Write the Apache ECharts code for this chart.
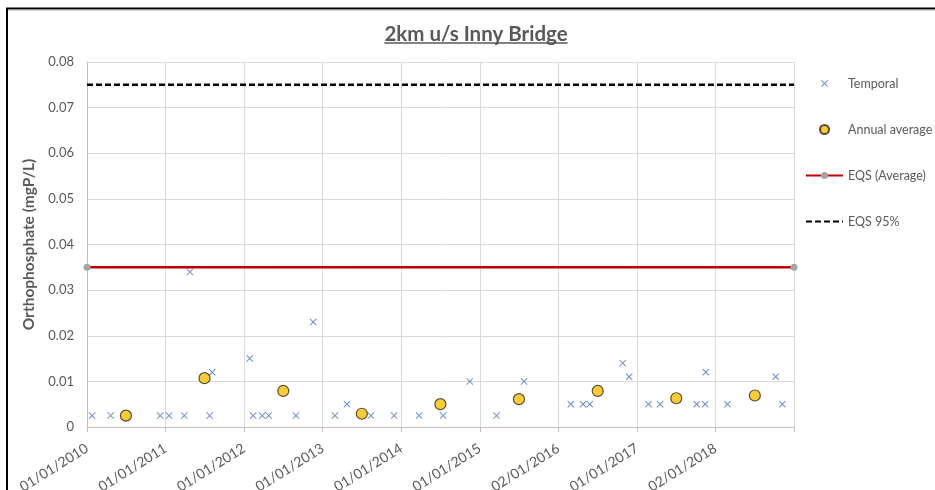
<!DOCTYPE html>
<html>
<head>
<meta charset="utf-8">
<script src="https://cdn.jsdelivr.net/npm/echarts@6/dist/echarts.min.js"></script>
<style>
  html, body { margin: 0; padding: 0; background: #fff; }
  #chart { width: 935px; height: 490px; }
</style>
</head>
<body>
<div id="chart"></div>
<script>
// 取样日期与数值
const temporalDates = [
  '2010-01-25', '2010-04-21', '2010-12-07', '2011-01-17', '2011-03-29', '2011-04-24',
  '2011-07-25', '2011-08-06', '2012-01-27', '2012-02-12', '2012-03-25', '2012-04-24',
  '2012-08-29', '2012-11-17', '2013-02-26', '2013-04-23', '2013-08-12', '2013-11-28',
  '2014-03-24', '2014-07-14', '2014-11-15', '2015-03-19', '2015-07-25', '2016-02-27',
  '2016-04-24', '2016-05-25', '2016-10-25', '2016-11-24', '2017-02-22', '2017-04-17',
  '2017-10-04', '2017-11-12', '2017-11-15', '2018-02-24', '2018-10-06', '2018-11-06'
]
const temporalValues = [
  0.0025, 0.0025, 0.0025, 0.0025, 0.0025, 0.034,
  0.0025, 0.012, 0.015, 0.0025, 0.0025, 0.0025,
  0.0025, 0.023, 0.0025, 0.005, 0.0025, 0.0025,
  0.0025, 0.0025, 0.01, 0.0025, 0.01, 0.005,
  0.005, 0.005, 0.014, 0.011, 0.005, 0.005,
  0.005, 0.005, 0.012, 0.005, 0.011, 0.005
]

// 年平均值
const averageDates = [
  '2010-07-01', '2011-07-01', '2012-07-01', '2013-07-01', '2014-07-01',
  '2015-07-01', '2016-07-01', '2017-07-01', '2018-07-01'
]
const averageValues = [0.0025, 0.0107, 0.0079, 0.0029, 0.005, 0.0061, 0.0079, 0.0063, 0.0069]

// 标准线
const eqsAverage = 0.035
const eqs95 = 0.075

// 横轴刻度 (每 365 天一格)
const xTickLabels = [
  '01/01/2010', '01/01/2011', '01/01/2012', '01/01/2013', '01/01/2014',
  '01/01/2015', '02/01/2016', '01/01/2017', '02/01/2018'
]
const startDate = '2010-01-01'
const tickDays = 365
const xMax = tickDays * xTickLabels.length

const FONT = 'Lato'
const GREY = '#595959'

function toDays (d) {
  return Math.round((Date.parse(d) - Date.parse(startDate)) / 86400000)
}

const titleText = '2km u/s Inny Bridge'
const titleFont = 'bold 20.5px ' + FONT
const ctx = document.createElement('canvas').getContext('2d')
ctx.font = titleFont
const titleWidth = ctx.measureText(titleText).width
const titleCx = 476

// 散点的叉号, 图例里带一点留白
const crossPath = 'path://M0,1L1,0L5,4L9,0L10,1L6,5L10,9L9,10L5,6L1,10L0,9L4,5Z'
const crossLegend = 'path://M-1.4,-1.4M11.4,11.4M0,1L1,0L5,4L9,0L10,1L6,5L10,9L9,10L5,6L1,10L0,9L4,5Z'

let myChart = echarts.init(document.getElementById('chart'))
myChart.setOption({
  animation: false,
  textStyle: { fontFamily: FONT },
  graphic: [
    {
      type: 'polyline',
      shape: { points: [[7, 490], [7, 8.5], [935, 8.5]] },
      style: { stroke: '#000', lineWidth: 2, fill: null }
    },
    {
      type: 'line',
      shape: { x1: 8, y1: 10, x2: 935, y2: 10 },
      style: { stroke: '#a6a6a6', lineWidth: 1 }
    },
    {
      type: 'text',
      x: titleCx,
      y: 34,
      style: {
        text: titleText,
        font: titleFont,
        fill: GREY,
        align: 'center',
        verticalAlign: 'middle'
      }
    },
    {
      type: 'line',
      shape: { x1: titleCx - titleWidth / 2, y1: 43, x2: titleCx + titleWidth / 2, y2: 43 },
      style: { stroke: GREY, lineWidth: 1.4 }
    }
  ],
  grid: {
    left: 87,
    right: 141,
    top: 62,
    bottom: 63,
    outerBoundsMode: 'none'
  },
  legend: {
    orient: 'vertical',
    left: 800,
    top: 72,
    itemWidth: 37,
    itemHeight: 9,
    itemGap: 33,
    textStyle: { color: GREY, fontSize: 12.5, fontFamily: FONT },
    data: [
      { name: 'Temporal', icon: crossLegend },
      { name: 'Annual average', icon: 'circle' },
      { name: 'EQS (Average)' },
      { name: 'EQS 95%', itemStyle: { opacity: 0 } }
    ]
  },
  xAxis: {
    type: 'value',
    min: 0,
    max: xMax,
    interval: tickDays,
    axisLine: { lineStyle: { color: '#bfbfbf' } },
    axisTick: { show: true, length: 5, lineStyle: { color: '#bfbfbf' } },
    splitLine: { show: true, lineStyle: { color: '#d9d9d9' } },
    axisLabel: {
      rotate: 32,
      margin: 20,
      color: GREY,
      fontSize: 14,
      formatter: value => xTickLabels[Math.round(value / tickDays)] || ''
    }
  },
  yAxis: {
    type: 'value',
    min: 0,
    max: 0.08,
    interval: 0.01,
    name: 'Orthophosphate (mgP/L)',
    nameLocation: 'middle',
    nameGap: 46,
    nameTextStyle: { color: GREY, fontSize: 15.5, fontWeight: 'bold' },
    axisLine: { show: true, lineStyle: { color: '#bfbfbf' } },
    axisTick: { show: false },
    splitLine: { show: true, lineStyle: { color: '#d9d9d9' } },
    axisLabel: {
      color: GREY,
      fontSize: 13,
      margin: 13,
      formatter: value => (value === 0 ? '0' : value.toFixed(2))
    }
  },
  series: [
    {
      name: 'Temporal',
      type: 'scatter',
      symbol: crossPath,
      symbolSize: 7,
      itemStyle: { color: '#4472c4' },
      data: temporalDates.map((d, i) => [toDays(d), temporalValues[i]])
    },
    {
      name: 'Annual average',
      type: 'scatter',
      symbol: 'circle',
      symbolSize: 11,
      itemStyle: { color: '#ffc000', borderColor: '#262626', borderWidth: 1.2 },
      data: averageDates.map((d, i) => [toDays(d), averageValues[i]])
    },
    {
      name: 'EQS (Average)',
      type: 'line',
      symbol: 'circle',
      symbolSize: 7,
      itemStyle: { color: '#a5a5a5' },
      lineStyle: { color: '#c00000', width: 2.5 },
      data: [[0, eqsAverage], [xMax, eqsAverage]]
    },
    {
      name: 'EQS 95%',
      type: 'line',
      showSymbol: false,
      symbol: 'none',
      symbolSize: 0,
      itemStyle: { color: '#000' },
      lineStyle: { color: '#000', width: 2.5, type: [6, 3] },
      data: [[0, eqs95], [xMax, eqs95]]
    }
  ]
})
</script>
</body>
</html>
